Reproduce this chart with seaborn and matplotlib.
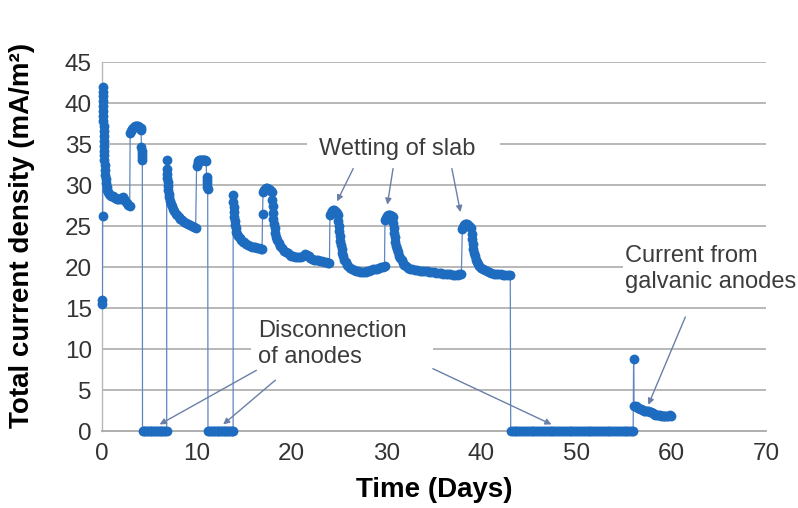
import matplotlib
matplotlib.use("Agg")
import matplotlib.pyplot as plt
from matplotlib.patches import Rectangle
import seaborn as sns
import pandas as pd

# ---------------- data ----------------
t_on1 = [0.05, 0.07, 0.10, 0.11, 0.12, 0.13, 0.14, 0.15, 0.16, 0.17, 0.18, 0.19, 0.20,
         0.21, 0.22, 0.23, 0.25, 0.27, 0.29, 0.31, 0.34, 0.37, 0.41, 0.46, 0.52, 0.60,
         0.70, 0.80, 0.90, 1.00, 1.15, 1.30, 1.45, 1.60, 1.75, 1.90, 2.05, 2.20, 2.35,
         2.50, 2.65, 2.80, 2.95]
i_on1 = [15.5, 16.0, 26.2, 42.0, 41.4, 40.8, 40.2, 39.6, 39.0, 38.4, 37.8, 37.2, 36.6,
         36.0, 35.4, 34.8, 34.2, 33.6, 33.0, 32.4, 31.8, 31.2, 30.7, 30.2, 29.8, 29.4,
         29.1, 28.9, 28.8, 28.7, 28.6, 28.5, 28.4, 28.3, 28.3, 28.3, 28.4, 28.5, 28.3,
         28.0, 27.8, 27.6, 27.4]

t_on2 = [3.00, 3.10, 3.20, 3.30, 3.40, 3.50, 3.60, 3.70, 3.80, 3.90, 4.00, 4.10, 4.15,
         4.18, 4.20, 4.22, 4.25, 4.28]
i_on2 = [36.3, 36.6, 36.8, 37.0, 37.1, 37.2, 37.2, 37.2, 37.2, 37.1, 37.0, 36.9, 36.7,
         34.6, 34.2, 33.8, 33.4, 33.1]

t_off1 = [4.30, 4.45, 4.60, 4.75, 4.90, 5.05, 5.20, 5.35, 5.50, 5.65, 5.80, 5.95, 6.10,
          6.25, 6.40, 6.55, 6.70, 6.85]
i_off1 = [0, 0, 0, 0, 0, 0, 0, 0, 0, 0, 0, 0, 0,
          0, 0, 0, 0, 0]

t_on3 = [6.85, 6.88, 6.90, 6.92, 6.95, 6.98, 7.02, 7.07, 7.13, 7.20, 7.30, 7.40, 7.50,
         7.65, 7.80, 7.95, 8.10, 8.30, 8.50, 8.70, 8.90, 9.10, 9.30, 9.50, 9.70, 9.90,
         10.00, 10.10, 10.20, 10.30, 10.40, 10.50, 10.60, 10.70, 10.80, 10.90, 11.00,
         11.05, 11.08, 11.11, 11.14, 11.17]
i_on3 = [33.0, 32.0, 31.4, 30.9, 30.4, 29.9, 29.4, 28.9, 28.5, 28.1, 27.7, 27.4, 27.1,
         26.8, 26.5, 26.3, 26.1, 25.9, 25.7, 25.5, 25.4, 25.2, 25.1, 25.0, 24.9, 24.8,
         32.3, 32.7, 32.9, 33.0, 33.1, 33.1, 33.1, 33.1, 33.1, 33.0, 32.9,
         31.0, 30.6, 30.2, 29.8, 29.5]

t_off2 = [11.20, 11.35, 11.50, 11.65, 11.80, 11.95, 12.10, 12.25, 12.40, 12.55, 12.70,
          12.85, 13.00, 13.15, 13.30, 13.45, 13.60, 13.75, 13.85]
i_off2 = [0, 0, 0, 0, 0, 0, 0, 0, 0, 0, 0,
          0, 0, 0, 0, 0, 0, 0, 0]

t_on4 = [13.85, 13.88, 13.90, 13.93, 13.96, 14.00, 14.05, 14.12, 14.20, 14.30, 14.40,
         14.55, 14.70, 14.85, 15.00, 15.20, 15.40, 15.60, 15.80, 16.00, 16.20, 16.40,
         16.60, 16.80, 16.90, 16.95, 17.00, 17.10, 17.20, 17.30, 17.40, 17.50, 17.60,
         17.70, 17.80, 17.90, 17.95, 18.00, 18.05, 18.10, 18.15, 18.22, 18.30, 18.40,
         18.50, 18.65, 18.80, 19.00, 19.20, 19.40, 19.60, 19.80, 20.00, 20.20, 20.40,
         20.60, 20.80, 21.00, 21.20, 21.40, 21.60, 21.80, 22.00, 22.20, 22.40, 22.60,
         22.80, 23.00, 23.20, 23.40, 23.60, 23.80, 24.00]
i_on4 = [28.8, 27.9, 27.3, 26.7, 26.1, 25.6, 25.1, 24.7, 24.3, 24.0, 23.8,
         23.5, 23.3, 23.1, 23.0, 22.8, 22.7, 22.6, 22.5, 22.5, 22.4, 22.3,
         22.3, 22.2, 22.2, 26.5, 29.2, 29.4, 29.5, 29.6, 29.6, 29.5, 29.5,
         29.4, 29.3, 29.1, 28.2, 27.4, 26.6, 25.9, 25.3, 24.7, 24.2, 23.7,
         23.3, 22.9, 22.6, 22.3, 22.0, 21.8, 21.7, 21.5, 21.4, 21.3, 21.2,
         21.2, 21.2, 21.2, 21.4, 21.6, 21.5, 21.3, 21.1, 21.0, 20.9, 20.8,
         20.8, 20.7, 20.7, 20.6, 20.6, 20.5, 20.5]

t_wet1 = [24.05, 24.15, 24.25, 24.35, 24.45, 24.55, 24.65, 24.75, 24.85, 24.92, 24.97,
          25.02, 25.07, 25.13, 25.20, 25.28, 25.37, 25.47, 25.58, 25.70, 25.85, 26.00,
          26.20, 26.40, 26.60, 26.80, 27.00, 27.20, 27.40, 27.60, 27.80, 28.00, 28.20,
          28.40, 28.60, 28.80, 29.00, 29.20, 29.40, 29.60, 29.80]
i_wet1 = [26.3, 26.6, 26.8, 26.9, 26.9, 26.8, 26.7, 26.6, 26.4, 25.6, 25.0,
          24.4, 23.8, 23.2, 22.7, 22.2, 21.7, 21.3, 20.9, 20.6, 20.3, 20.1,
          19.9, 19.7, 19.6, 19.5, 19.5, 19.4, 19.4, 19.4, 19.4, 19.5, 19.5,
          19.6, 19.7, 19.8, 19.8, 19.9, 20.0, 20.0, 20.1]

t_wet2 = [29.85, 29.95, 30.05, 30.15, 30.25, 30.35, 30.45, 30.55, 30.65, 30.72, 30.77,
          30.82, 30.88, 30.95, 31.03, 31.12, 31.22, 31.33, 31.45, 31.60, 31.75, 31.90,
          32.10, 32.30, 32.50, 32.75, 33.00, 33.25, 33.50, 33.75, 34.00, 34.25, 34.50,
          34.75, 35.00, 35.25, 35.50, 35.75, 36.00, 36.25, 36.50, 36.75, 37.00, 37.25,
          37.50, 37.70, 37.90]
i_wet2 = [25.7, 26.0, 26.2, 26.3, 26.3, 26.3, 26.2, 26.2, 26.1, 25.4, 24.8,
          24.2, 23.6, 23.1, 22.6, 22.2, 21.8, 21.4, 21.1, 20.8, 20.5, 20.3,
          20.1, 19.9, 19.8, 19.7, 19.6, 19.6, 19.5, 19.5, 19.5, 19.5, 19.4,
          19.4, 19.4, 19.3, 19.3, 19.3, 19.2, 19.2, 19.1, 19.1, 19.0, 19.0,
          19.0, 19.1, 19.2]

t_wet3 = [38.00, 38.10, 38.20, 38.30, 38.40, 38.50, 38.60, 38.70, 38.80, 38.90, 38.97,
          39.02, 39.08, 39.15, 39.23, 39.32, 39.42, 39.53, 39.65, 39.80, 39.95, 40.15,
          40.35, 40.55, 40.80, 41.05, 41.30, 41.55, 41.80, 42.05, 42.30, 42.55, 42.80,
          43.05]
i_wet3 = [24.6, 24.9, 25.1, 25.2, 25.2, 25.2, 25.1, 25.0, 24.9, 24.8, 24.0,
          23.4, 22.8, 22.2, 21.7, 21.3, 20.9, 20.6, 20.4, 20.1, 19.9, 19.7,
          19.6, 19.5, 19.4, 19.3, 19.2, 19.2, 19.1, 19.1, 19.0, 19.0, 19.0,
          19.0]

t_off3 = [43.1, 43.3, 43.5, 43.7, 43.9, 44.1, 44.3, 44.5, 44.7, 44.9, 45.1, 45.3, 45.5,
          45.7, 45.9, 46.1, 46.3, 46.5, 46.7, 46.9, 47.1, 47.3, 47.5, 47.7, 47.9, 48.1,
          48.3, 48.5, 48.7, 48.9, 49.1, 49.3, 49.5, 49.7, 49.9, 50.1, 50.3, 50.5, 50.7,
          50.9, 51.1, 51.3, 51.5, 51.7, 51.9, 52.1, 52.3, 52.5, 52.7, 52.9, 53.1, 53.3,
          53.5, 53.7, 53.9, 54.1, 54.3, 54.5, 54.7, 54.9, 55.1, 55.3, 55.5, 55.7, 55.9,
          56.0]
i_off3 = [0, 0, 0, 0, 0, 0, 0, 0, 0, 0, 0, 0, 0,
          0, 0, 0, 0, 0, 0, 0, 0, 0, 0, 0, 0, 0,
          0, 0, 0, 0, 0, 0, 0, 0, 0, 0, 0, 0, 0,
          0, 0, 0, 0, 0, 0, 0, 0, 0, 0, 0, 0, 0,
          0, 0, 0, 0, 0, 0, 0, 0, 0, 0, 0, 0, 0,
          0]

t_galv = [56.05, 56.10, 56.25, 56.40, 56.55, 56.70, 56.85, 57.00, 57.15, 57.30, 57.45,
          57.60, 57.75, 57.90, 58.05, 58.20, 58.35, 58.50, 58.65, 58.80, 58.95, 59.10,
          59.25, 59.40, 59.55, 59.70, 59.85, 60.00]
i_galv = [8.8, 3.0, 3.0, 2.9, 2.8, 2.7, 2.7, 2.6, 2.5, 2.5, 2.4,
          2.4, 2.3, 2.3, 2.2, 2.1, 2.0, 2.0, 1.9, 1.9, 1.8, 1.8,
          1.8, 1.8, 1.8, 1.8, 1.9, 1.8]

x_ticks = [0, 10, 20, 30, 40, 50, 60, 70]
y_ticks = [0, 5, 10, 15, 20, 25, 30, 35, 40, 45]

x_label = "Time (Days)"
y_label = "Total current density (mA/m²)"

# ---------------- assemble ----------------
segments = [(t_on1, i_on1), (t_on2, i_on2), (t_off1, i_off1), (t_on3, i_on3),
            (t_off2, i_off2), (t_on4, i_on4), (t_wet1, i_wet1), (t_wet2, i_wet2),
            (t_wet3, i_wet3), (t_off3, i_off3), (t_galv, i_galv)]
t_all, i_all = [], []
for t, i in segments:
    t_all += t
    i_all += i
df = pd.DataFrame({"t": t_all, "i": i_all})

# ---------------- figure ----------------
sns.set_theme(style="white")
plt.rcParams["font.family"] = ["Liberation Sans", "DejaVu Sans"]

fig = plt.figure(figsize=(7.98, 5.08), dpi=100)
ax = fig.add_axes([0.12744, 0.15157, 0.83246, 0.72638])

grid_c = "#b2b2b2"
for y in y_ticks[1:]:
    ax.axhline(y, color=grid_c, lw=1.3, zorder=0.5)

# white boxes behind the annotation texts
box_kw = dict(facecolor="white", edgecolor="none", zorder=1)
ax.add_patch(Rectangle((21.6, 31.6), 20.4, 6.2, **box_kw))
ax.add_patch(Rectangle((15.7, 7.4), 19.2, 6.4, **box_kw))
ax.add_patch(Rectangle((54.9, 16.2), 15.1, 7.4, **box_kw))

line_c = "#5f86c0"
mark_c = "#1e6cc0"
sns.lineplot(data=df, x="t", y="i", sort=False, estimator=None, color=line_c,
             lw=0.9, ax=ax, zorder=2)
sns.scatterplot(data=df, x="t", y="i", color=mark_c, s=50, linewidth=0,
                ax=ax, zorder=3)
for coll in ax.collections:
    coll.set_clip_on(False)

ax.set_xlim(0, 70)
ax.set_ylim(0, 45)
ax.set_xticks(x_ticks)
ax.set_yticks(y_ticks)

for s in ["top", "right"]:
    ax.spines[s].set_visible(False)
ax.spines["left"].set_color("#b8b8b8")
ax.spines["left"].set_linewidth(1.0)
ax.spines["bottom"].set_color("#a8a8a8")
ax.spines["bottom"].set_linewidth(1.3)
ax.spines["left"].set_zorder(0.6)

ax.tick_params(axis="x", direction="inout", length=9, width=1.1, color="#a8a8a8",
               labelsize=17.5, labelcolor="#333333", pad=4)
ax.tick_params(axis="y", direction="out", length=4, width=1.1, color="#b2b2b2",
               labelsize=17.5, labelcolor="#333333", pad=3)

ax.set_xlabel("")
ax.set_ylabel("")
fig.text(434 / 798, 1 - 490 / 508, x_label, ha="center", va="center",
         fontsize=20, fontweight="bold", color="black")
fig.text(22 / 798, 1 - 235 / 508, y_label, ha="center", va="center",
         rotation=90, fontsize=20, fontweight="bold", color="black")

# annotations
txt_c = "#3c3c3c"
arr_c = "#6a7fa8"
ax.text(31.1, 34.4, "Wetting of slab", ha="center", va="center", fontsize=17,
        color=txt_c, zorder=4)
ax.text(16.5, 10.6, "Disconnection\nof anodes", ha="left", va="center",
        fontsize=17, color=txt_c, linespacing=1.25, zorder=4)
ax.text(55.1, 19.8, "Current from\ngalvanic anodes", ha="left", va="center",
        fontsize=17, color=txt_c, linespacing=1.25, zorder=4)

arrows = [((26.5, 32.0), (24.8, 28.0)),
          ((30.7, 32.0), (30.1, 27.6)),
          ((36.9, 32.0), (37.8, 26.7)),
          ((16.3, 7.4), (6.1, 0.8)),
          ((18.3, 6.2), (12.8, 0.8)),
          ((34.9, 7.6), (47.4, 0.8)),
          ((61.5, 13.9), (57.6, 3.2))]
for start, tip in arrows:
    ax.annotate("", xy=tip, xytext=start,
                arrowprops=dict(arrowstyle="-|>", color=arr_c, lw=1.0,
                                mutation_scale=9, shrinkA=0, shrinkB=0),
                zorder=5)

fig.savefig("out.png", dpi=100)
